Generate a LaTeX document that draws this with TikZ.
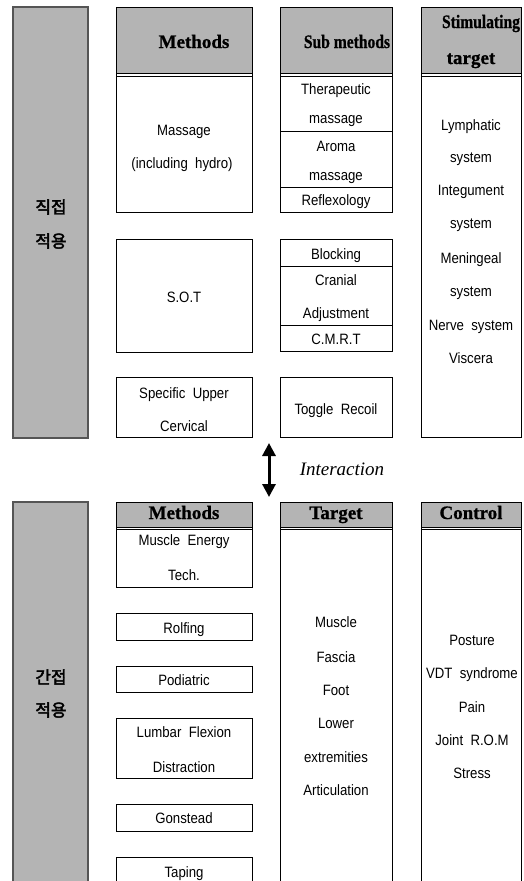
\documentclass[tikz,border=0pt]{standalone}
\usepackage{fontspec}
\setmainfont{Liberation Sans}
\newfontfamily\bodyf{Liberation Sans}[FakeStretch=0.88]
\newfontfamily\headf{Liberation Serif}[BoldFeatures={FakeBold=0.8}]
\newfontfamily\headnarrow{Liberation Serif}[FakeStretch=0.82, BoldFeatures={FakeBold=0.8}]
\newfontfamily\kof{Noto Sans CJK KR}[FakeBold=2.5]
\usetikzlibrary{arrows.meta}
\definecolor{panelgray}{RGB}{180,180,180}
\definecolor{sideline}{RGB}{85,85,85}
\tikzset{
  outline/.style={draw=black, line width=0.8pt},
  headfill/.style={fill=panelgray},
  sidecol/.style={fill=panelgray, draw=sideline, line width=1.1pt},
  txt/.style={font=\bodyf\fontsize{15}{17}\selectfont, anchor=base, inner sep=0pt},
  head/.style={font=\headf\bfseries\fontsize{19}{21}\selectfont, anchor=base, inner sep=0pt},
  headn/.style={font=\headnarrow\bfseries\fontsize{19}{21}\selectfont, anchor=base, inner sep=0pt},
  kor/.style={font=\kof\fontsize{17}{19}\selectfont, anchor=center, inner sep=0pt},
}
\begin{document}
\begin{tikzpicture}[x=1pt, y=-1pt]
\useasboundingbox (0,0) rectangle (523,881);
\fill[white] (0,0) rectangle (523,881);

% ---------- direct application ----------
\draw[sidecol] (13,7) rectangle (88,438);
\node[kor] (dA) at (51,207) {직접};
\node[kor] (dB) at (51,241) {적용};

% Methods column
\fill[headfill] (116,7) rectangle (252,73);
\draw[outline] (116,7) rectangle (252,212);
\draw[outline] (116,73) -- (252,73) (116,76) -- (252,76);
\node[head] (hMeth) at (194,48) {Methods};
\node[txt] (massA) at (184,135) {Massage};
\node[txt] (massB) at (182,168) {(including\ \ hydro)};

\draw[outline] (116,239) rectangle (252,352);
\node[txt] (sot) at (184,302) {S.O.T};

\draw[outline] (116,377) rectangle (252,437);
\node[txt] (sucA) at (184,398) {Specific\ \ Upper};
\node[txt] (sucB) at (184,431) {Cervical};

% Sub methods column
\fill[headfill] (280,7) rectangle (392,73);
\draw[outline] (280,7) rectangle (392,212);
\draw[outline] (280,73) -- (392,73) (280,76) -- (392,76)
  (280,131) -- (392,131) (280,187) -- (392,187);
\node[headn] (hSub) at (347,48) {Sub methods};
\node[txt] (thA) at (336,94) {Therapeutic};
\node[txt] (thB) at (336,123) {massage};
\node[txt] (arA) at (336,151) {Aroma};
\node[txt] (arB) at (336,180) {massage};
\node[txt] (refl) at (336,205) {Reflexology};

\draw[outline] (280,239) rectangle (392,351);
\draw[outline] (280,266) -- (392,266) (280,325) -- (392,325);
\node[txt] (blk) at (336,259) {Blocking};
\node[txt] (crA) at (336,285) {Cranial};
\node[txt] (crB) at (336,318) {Adjustment};
\node[txt] (cmrt) at (336,344) {C.M.R.T};

\draw[outline] (280,377) rectangle (392,437);
\node[txt] (tog) at (336,414) {Toggle\ \ Recoil};

% Stimulating target column
\fill[headfill] (421,7) rectangle (521,73);
\draw[outline] (421,7) rectangle (521,437);
\draw[outline] (421,73) -- (521,73) (421,76) -- (521,76);
\node[headn] (hStA) at (481,28) {Stimulating};
\node[head] (hStB) at (471,64) {target};
\node[txt] (st1) at (471,130) {Lymphatic};
\node[txt] (st2) at (471,162) {system};
\node[txt] (st3) at (471,195) {Integument};
\node[txt] (st4) at (471,228) {system};
\node[txt] (st5) at (471,263) {Meningeal};
\node[txt] (st6) at (471,296) {system};
\node[txt] (st7) at (471,330) {Nerve\ \ system};
\node[txt] (st8) at (471,363) {Viscera};

% ---------- interaction ----------
\coordinate (arrTop) at (269,443);
\coordinate (arrBot) at (269,497);
\draw[line width=3pt, {Triangle[width=13pt,length=13pt]}-{Triangle[width=13pt,length=13pt]}]
  (arrTop) -- (arrBot);
\node[font=\headf\itshape\fontsize{19}{21}\selectfont, anchor=base, inner sep=0pt]
  (inter) at (342,475) {Interaction};

% ---------- indirect application ----------
\draw[sidecol] (13,502) rectangle (88,895);
\node[kor] (iA) at (51,677) {간접};
\node[kor] (iB) at (51,710) {적용};

% Methods
\fill[headfill] (116,502) rectangle (252,527);
\draw[outline] (116,502) rectangle (252,587);
\draw[outline] (116,527) -- (252,527) (116,529.5) -- (252,529.5);
\node[head] (hMethB) at (184,519) {Methods};
\node[txt] (meA) at (184,545) {Muscle\ \ Energy};
\node[txt] (meB) at (184,580) {Tech.};

\draw[outline] (116,613) rectangle (252,640);
\node[txt] (rolf) at (184,633) {Rolfing};
\draw[outline] (116,666) rectangle (252,692);
\node[txt] (pod) at (184,685) {Podiatric};
\draw[outline] (116,718) rectangle (252,778);
\node[txt] (lfA) at (184,737) {Lumbar\ \ Flexion};
\node[txt] (lfB) at (184,772) {Distraction};
\draw[outline] (116,804) rectangle (252,831);
\node[txt] (gon) at (184,823) {Gonstead};
\draw[outline] (116,895) -- (116,857) -- (252,857) -- (252,895);
\node[txt] (tap) at (184,877) {Taping};

% Target
\fill[headfill] (280,502) rectangle (392,527);
\draw[outline] (280,895) -- (280,502) -- (392,502) -- (392,895);
\draw[outline] (280,527) -- (392,527) (280,529.5) -- (392,529.5);
\node[head] (hTar) at (336,519) {Target};
\node[txt] (t1) at (336,627) {Muscle};
\node[txt] (t2) at (336,662) {Fascia};
\node[txt] (t3) at (336,695) {Foot};
\node[txt] (t4) at (336,728) {Lower};
\node[txt] (t5) at (336,762) {extremities};
\node[txt] (t6) at (336,795) {Articulation};

% Control
\fill[headfill] (421,502) rectangle (521,527);
\draw[outline] (421,895) -- (421,502) -- (521,502) -- (521,895);
\draw[outline] (421,527) -- (521,527) (421,529.5) -- (521,529.5);
\node[head] (hCon) at (471,519) {Control};
\node[txt] (c1) at (472,645) {Posture};
\node[txt] (c2) at (472,678) {VDT\ \ syndrome};
\node[txt] (c3) at (472,712) {Pain};
\node[txt] (c4) at (472,745) {Joint\ \ R.O.M};
\node[txt] (c5) at (472,778) {Stress};
\end{tikzpicture}
\end{document}
